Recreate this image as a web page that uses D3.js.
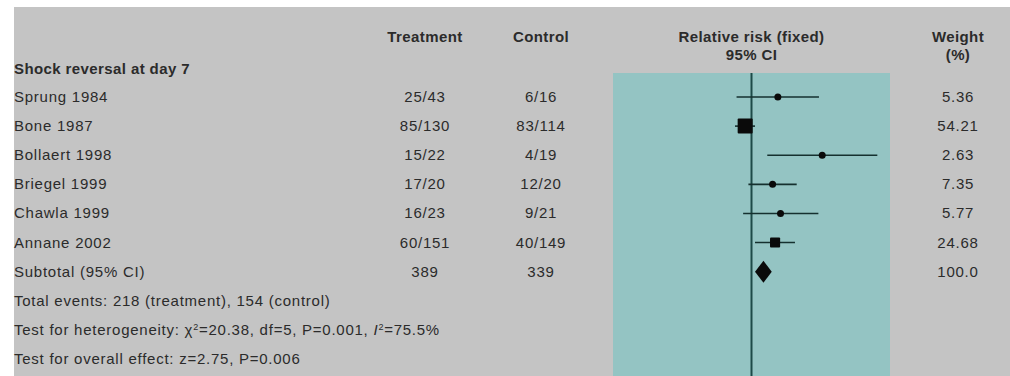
<!DOCTYPE html>
<html>
<head>
<meta charset="utf-8">
<script src="https://cdn.jsdelivr.net/npm/d3@7"></script>
<style>
  html, body { margin: 0; padding: 0; background: #fff; }
  svg { display: block; }
  text { font-family: "Liberation Sans", Arial, sans-serif; fill: #2b2b2b; }
</style>
</head>
<body>
<div id="chart"></div>
<script>
// study rows
const studies = ['Sprung 1984', 'Bone 1987', 'Bollaert 1998', 'Briegel 1999', 'Chawla 1999', 'Annane 2002'];
const treatment = ['25/43', '85/130', '15/22', '17/20', '16/23', '60/151'];
const control = ['6/16', '83/114', '4/19', '12/20', '9/21', '40/149'];
const rr = [1.55, 0.90, 3.24, 1.42, 1.62, 1.48];
const lower = [0.78, 0.76, 1.30, 0.95, 0.87, 1.06];
const upper = [3.07, 1.06, 8.10, 2.12, 3.04, 2.06];
const weights = [5.36, 54.21, 2.63, 7.35, 5.77, 24.68];

// pooled
const subtotal = { label: 'Subtotal (95% CI)', treatment: '389', control: '339', rr: 1.22, lower: 1.06, upper: 1.40, weight: '100.0' };

const footer = [
  'Total events: 218 (treatment), 154 (control)',
  'Test for heterogeneity',
  'Test for overall effect: z=2.75, P=0.006'
];

const width = 1010;
const height = 376;

const svg = d3.select('#chart')
  .append('svg')
  .attr('width', width)
  .attr('height', height);

// grey backdrop with white margin
svg.append('rect')
  .attr('x', 14).attr('y', 7)
  .attr('width', width - 14).attr('height', height - 7)
  .attr('fill', '#c4c4c4');

const x = d3.scaleLog().domain([0.1, 10]).range([613, 890]);

const rowY = d3.scaleLinear().domain([0, 9]).range([97, 359]);

// teal plot panel
svg.append('rect')
  .attr('x', x(0.1)).attr('y', 73)
  .attr('width', x(10) - x(0.1)).attr('height', height - 73)
  .attr('fill', '#94c4c3');

// line of no effect
svg.append('line')
  .attr('x1', x(1)).attr('x2', x(1))
  .attr('y1', 73).attr('y2', height)
  .attr('stroke', '#1d4a48')
  .attr('stroke-width', 2);

// headers
const head = svg.append('g')
  .style('font-weight', 'bold')
  .style('font-size', '15px')
  .style('letter-spacing', '0.4px');
head.append('text').attr('x', 425).attr('y', 42).attr('text-anchor', 'middle').text('Treatment');
head.append('text').attr('x', 541).attr('y', 42).attr('text-anchor', 'middle').text('Control');
head.append('text').attr('x', x(1)).attr('y', 42).attr('text-anchor', 'middle').text('Relative risk (fixed)');
head.append('text').attr('x', x(1)).attr('y', 60).attr('text-anchor', 'middle').text('95% CI');
head.append('text').attr('x', 958).attr('y', 42).attr('text-anchor', 'middle').text('Weight');
head.append('text').attr('x', 958).attr('y', 60).attr('text-anchor', 'middle').text('(%)');
head.append('text').attr('x', 14).attr('y', 74).text('Shock reversal at day 7');

const body = svg.append('g')
  .style('font-size', '15px')
  .style('letter-spacing', '0.75px');

const rows = studies.map((s, i) => ({
  label: s, treatment: treatment[i], control: control[i],
  rr: rr[i], lower: lower[i], upper: upper[i], weight: weights[i]
}));

body.selectAll('text.study')
  .data(rows)
  .join('text')
  .attr('class', 'study')
  .attr('x', 14)
  .attr('y', (d, i) => rowY(i) + 5)
  .text(d => d.label);

body.selectAll('text.trt')
  .data(rows)
  .join('text')
  .attr('class', 'trt')
  .attr('x', 425)
  .attr('y', (d, i) => rowY(i) + 5)
  .attr('text-anchor', 'middle')
  .text(d => d.treatment);

body.selectAll('text.ctl')
  .data(rows)
  .join('text')
  .attr('class', 'ctl')
  .attr('x', 541)
  .attr('y', (d, i) => rowY(i) + 5)
  .attr('text-anchor', 'middle')
  .text(d => d.control);

body.selectAll('text.wt')
  .data(rows)
  .join('text')
  .attr('class', 'wt')
  .attr('x', 958)
  .attr('y', (d, i) => rowY(i) + 5)
  .attr('text-anchor', 'middle')
  .text(d => d.weight.toFixed(2));

// CI lines and squares
const size = d3.scaleSqrt().domain([0, d3.max(weights)]).range([0, 15]);
const marks = svg.append('g');

marks.selectAll('line.ci')
  .data(rows)
  .join('line')
  .attr('class', 'ci')
  .attr('x1', d => x(d.lower))
  .attr('x2', d => x(d.upper))
  .attr('y1', (d, i) => rowY(i))
  .attr('y2', (d, i) => rowY(i))
  .attr('stroke', '#15302f')
  .attr('stroke-width', 1.6);

marks.selectAll('rect.pt')
  .data(rows)
  .join('rect')
  .attr('class', 'pt')
  .attr('x', d => x(d.rr) - Math.max(size(d.weight), 7) / 2)
  .attr('y', (d, i) => rowY(i) - Math.max(size(d.weight), 7) / 2)
  .attr('width', d => Math.max(size(d.weight), 7))
  .attr('height', d => Math.max(size(d.weight), 7))
  .attr('rx', d => size(d.weight) < 7 ? 3.5 : 1)
  .attr('fill', '#0a0a0a');

// subtotal row
const sy = rowY(6);
body.append('text').attr('x', 14).attr('y', sy + 5).text(subtotal.label);
body.append('text').attr('x', 425).attr('y', sy + 5).attr('text-anchor', 'middle').text(subtotal.treatment);
body.append('text').attr('x', 541).attr('y', sy + 5).attr('text-anchor', 'middle').text(subtotal.control);
body.append('text').attr('x', 958).attr('y', sy + 5).attr('text-anchor', 'middle').text(subtotal.weight);

marks.append('path')
  .attr('d', `M${x(subtotal.lower)},${sy} L${x(subtotal.rr)},${sy - 11} L${x(subtotal.upper)},${sy} L${x(subtotal.rr)},${sy + 11} Z`)
  .attr('fill', '#0a0a0a');

// footer lines
body.append('text').attr('x', 14).attr('y', rowY(7) + 5).text(footer[0]);

const het = body.append('text').attr('x', 14).attr('y', rowY(8) + 5);
het.append('tspan').text(footer[1] + ': χ');
het.append('tspan').attr('dy', -5).style('font-size', '9px').text('2');
het.append('tspan').attr('dy', 5).text('=20.38, df=5, P=0.001, ');
het.append('tspan').style('font-style', 'italic').text('I');
het.append('tspan').attr('dy', -5).style('font-size', '9px').text('2');
het.append('tspan').attr('dy', 5).text('=75.5%');

body.append('text').attr('x', 14).attr('y', rowY(9) + 5).text(footer[2]);
</script>
</body>
</html>
